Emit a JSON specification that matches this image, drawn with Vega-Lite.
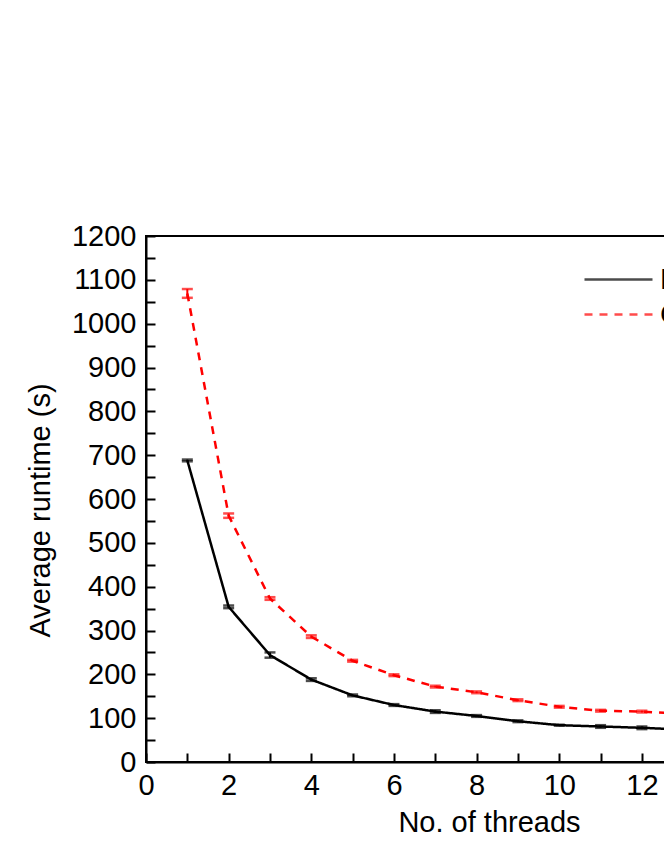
{
  "$schema": "https://vega.github.io/schema/vega-lite/v6.json",
  "autosize": {"type": "none"},
  "padding": {"left": 146, "top": 236, "right": 0, "bottom": 98},
  "width": 686,
  "height": 526,
  "background": "white",
  "config": {
    "font": "Liberation Sans",
    "view": {"stroke": "black", "strokeWidth": 2},
    "axis": {
      "domainColor": "black",
      "domainWidth": 2,
      "tickColor": "black",
      "tickWidth": 2,
      "tickSize": -9,
      "grid": false,
      "format": "d",
      "labelFlush": false,
      "labelFont": "Liberation Sans",
      "labelFontSize": 29,
      "labelColor": "black",
      "titleFont": "Liberation Sans",
      "titleFontSize": 29,
      "titleFontWeight": "normal",
      "titleColor": "black"
    },
    "legend": {
      "labelFont": "Liberation Sans",
      "labelFontSize": 29,
      "labelColor": "black"
    }
  },
  "data": {
    "values": [
      {"series": "BWA-MEM", "threads": 1, "time": 688, "err": 2},
      {"series": "BWA-MEM", "threads": 2, "time": 354, "err": 3},
      {"series": "BWA-MEM", "threads": 3, "time": 244, "err": 6},
      {"series": "BWA-MEM", "threads": 4, "time": 188, "err": 3},
      {"series": "BWA-MEM", "threads": 5, "time": 152, "err": 2},
      {"series": "BWA-MEM", "threads": 6, "time": 130, "err": 2},
      {"series": "BWA-MEM", "threads": 7, "time": 115, "err": 3},
      {"series": "BWA-MEM", "threads": 8, "time": 105, "err": 2},
      {"series": "BWA-MEM", "threads": 9, "time": 93, "err": 2},
      {"series": "BWA-MEM", "threads": 10, "time": 84, "err": 1},
      {"series": "BWA-MEM", "threads": 11, "time": 81, "err": 3},
      {"series": "BWA-MEM", "threads": 12, "time": 78, "err": 3},
      {"series": "BWA-MEM", "threads": 13, "time": 74, "err": 2},
      {"series": "BWA-MEM", "threads": 14, "time": 71, "err": 2},
      {"series": "BWA-MEM", "threads": 15, "time": 68, "err": 2},
      {"series": "BWA-MEM", "threads": 16, "time": 66, "err": 2},
      {"series": "CUSHAW", "threads": 1, "time": 1069, "err": 10},
      {"series": "CUSHAW", "threads": 2, "time": 562, "err": 5},
      {"series": "CUSHAW", "threads": 3, "time": 373, "err": 3},
      {"series": "CUSHAW", "threads": 4, "time": 286, "err": 3},
      {"series": "CUSHAW", "threads": 5, "time": 231, "err": 2},
      {"series": "CUSHAW", "threads": 6, "time": 198, "err": 2},
      {"series": "CUSHAW", "threads": 7, "time": 172, "err": 2},
      {"series": "CUSHAW", "threads": 8, "time": 159, "err": 2},
      {"series": "CUSHAW", "threads": 9, "time": 141, "err": 2},
      {"series": "CUSHAW", "threads": 10, "time": 126, "err": 2},
      {"series": "CUSHAW", "threads": 11, "time": 117, "err": 2},
      {"series": "CUSHAW", "threads": 12, "time": 115, "err": 2},
      {"series": "CUSHAW", "threads": 13, "time": 110, "err": 2},
      {"series": "CUSHAW", "threads": 14, "time": 106, "err": 2},
      {"series": "CUSHAW", "threads": 15, "time": 102, "err": 2},
      {"series": "CUSHAW", "threads": 16, "time": 99, "err": 2}
    ]
  },
  "encoding": {
    "x": {
      "field": "threads",
      "type": "quantitative",
      "scale": {"domain": [0, 16.6], "nice": false, "zero": false},
      "axis": {
        "title": "No. of threads",
        "values": [0,1,2,3,4,5,6,7,8,9,10,11,12,13,14,15,16],
        "labelExpr": "datum.value % 2 == 0 ? datum.label : ''",
        "labelPadding": 18,
        "titlePadding": 8
      }
    },
    "y": {
      "field": "time",
      "type": "quantitative",
      "scale": {"domain": [0, 1200], "nice": false},
      "axis": {
        "title": "Average runtime (s)",
        "values": [0,50,100,150,200,250,300,350,400,450,500,550,600,650,700,750,800,850,900,950,1000,1050,1100,1150,1200],
        "labelExpr": "datum.value % 100 == 0 ? datum.label : ''",
        "labelPadding": 19,
        "titlePadding": 16,
        "titleY": 274
      }
    },
    "color": {
      "field": "series",
      "type": "nominal",
      "scale": {"domain": ["BWA-MEM", "CUSHAW"], "range": ["black", "#ff0000"]},
      "legend": {
        "title": null,
        "orient": "none",
        "legendX": 458,
        "legendY": 29,
        "symbolType": "M-3,0H3",
        "symbolSize": 514,
        "symbolStrokeWidth": 2.5,
        "rowPadding": 5,
        "labelOffset": 27
      }
    }
  },
  "layer": [
    {
      "mark": {"type": "line", "strokeWidth": 2.5},
      "encoding": {
        "strokeDash": {
          "field": "series",
          "type": "nominal",
          "scale": {"domain": ["BWA-MEM", "CUSHAW"], "range": [[1, 0], [8, 7]]},
          "legend": {
            "title": null,
            "orient": "none",
            "legendX": 458,
            "legendY": 29,
            "symbolType": "M-3,0H3",
            "symbolSize": 514,
            "symbolStrokeWidth": 2.5,
            "rowPadding": 5,
            "labelOffset": 27
          }
        }
      }
    },
    {
      "mark": {"type": "errorbar", "ticks": {"size": 11, "thickness": 2.5}, "thickness": 2},
      "encoding": {
        "yError": {"field": "err"}
      }
    }
  ]
}
